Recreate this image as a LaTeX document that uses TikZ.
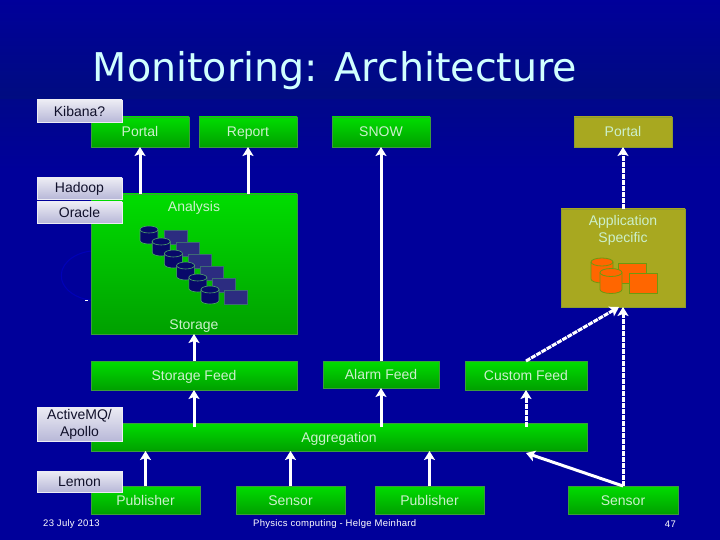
\documentclass[tikz,border=0pt]{standalone}
\usepackage{fontspec}
\setmainfont{Liberation Sans}
\newfontfamily\titlefont{DejaVu Sans}
\newfontfamily\footfont[LetterSpace=3]{Liberation Sans}
\usepackage{xcolor}
\usetikzlibrary{arrows.meta,positioning,shadows}
\definecolor{slideblue}{HTML}{00009A}
\definecolor{slidedark}{HTML}{000C80}
\definecolor{boxgreen}{HTML}{00DD00}
\definecolor{boxgreenlow}{HTML}{00A000}
\definecolor{boxedge}{HTML}{3C9C3C}
\definecolor{boxolive}{HTML}{A8A820}
\definecolor{oliveedge}{HTML}{8C9C30}
\definecolor{paletext}{HTML}{CCF0CC}
\definecolor{titletext}{HTML}{D0FFFF}
\definecolor{tagtop}{HTML}{ECECF4}
\definecolor{taglow}{HTML}{B8B8D8}
\definecolor{tagtext}{HTML}{10102A}
\definecolor{diskfill}{HTML}{08086A}
\definecolor{tapefill}{HTML}{2C2C80}
\definecolor{diskedge}{HTML}{50A868}
\definecolor{orangefill}{HTML}{FF6600}
\definecolor{orangeedge}{HTML}{6C9A10}
\begin{document}
\begin{tikzpicture}[
    x=1pt, y=1pt,
    greenbox/.style={draw=boxedge, top color=boxgreen, bottom color=boxgreenlow, line width=0.6pt, outer sep=0pt, inner sep=0pt, text=paletext, font=\fontsize{14}{17}\selectfont, text height=10pt, text depth=0pt},
    olivebox/.style={greenbox, draw=oliveedge, top color=boxolive, bottom color=boxolive},
    graytag/.style={draw=tagtop, top color=tagtop, bottom color=taglow, line width=0.4pt, outer sep=0pt, inner sep=0pt, text=tagtext, font=\fontsize{14}{17}\selectfont, align=center, minimum width=85pt, general shadow={shadow xshift=1pt, shadow yshift=-1pt, fill=black!80}},
    boxtext/.style={text=paletext, font=\fontsize{14}{17}\selectfont, align=center, inner sep=0pt},
    disk/.style={draw=diskedge, fill=diskfill, line width=0.6pt},
    tape/.style={rectangle, draw=diskedge!50!tapefill, fill=tapefill, line width=0.4pt, minimum width=23pt, minimum height=14pt, inner sep=0pt},
    odisk/.style={draw=orangeedge, fill=orangefill, line width=0.8pt},
    otape/.style={rectangle, draw=orangeedge, fill=orangefill, line width=0.8pt, minimum width=28pt, minimum height=20pt, inner sep=0pt},
    pics/can/.style n args={3}{code={
        \path[pic actions] (-#1,#2) -- (-#1,-#2) arc[start angle=180, end angle=360, x radius=#1, y radius=#3] -- (#1,#2) arc[start angle=0, end angle=180, x radius=#1, y radius=#3] -- cycle;
        \path[pic actions, fill=none] (-#1,#2) arc[start angle=180, end angle=360, x radius=#1, y radius=#3];
    }},
    arrow/.style={-{Stealth[length=9pt,width=11pt,inset=2pt]}, line width=3pt, color=white},
    darrow/.style={arrow, dash pattern=on 5pt off 1pt},
    foot/.style={text=white, font=\footfont\fontsize{9.5}{11}\selectfont, inner sep=0pt},
]

% Slide background
\useasboundingbox (0,0) rectangle (720,-540);
\shade[top color=slideblue, bottom color=slidedark] (0,0) rectangle (720,-100);
\shade[top color=slidedark!60!slideblue, bottom color=slideblue] (0,-100) rectangle (720,-170);
\fill[slideblue] (0,-170) rectangle (720,-540);
\draw[color=blue!72!black, line width=1pt] (91,-251) arc[start angle=100, end angle=260, x radius=36pt, y radius=25pt];
\draw[white, line width=1pt] (85,-300) -- (88,-300);

\node[text=titletext, font=\titlefont\fontsize{39.6}{46}\selectfont, inner sep=0pt] (title) at (335,-71) {Monitoring: Architecture};

% Top row: consumers
\node[greenbox, minimum width=98pt, minimum height=30pt] (portal) at (140,-132) {Portal};
\node[greenbox, minimum width=98pt, minimum height=30pt, right=10pt of portal] (report) {Report};
\node[greenbox, minimum width=98pt, minimum height=30pt, right=35pt of report] (snow) {SNOW};
\node[olivebox, minimum width=98pt, minimum height=30pt, right=144pt of snow] (portalapp) {Portal};

% Storage and application blocks
\node[greenbox, minimum width=206pt, minimum height=140pt, below right=47pt and 0pt of portal.south west] (analysis) {};
\node[boxtext, below=7pt of analysis.north] (analysistext) {Analysis};
\node[boxtext, above=1pt of analysis.south] (storagetext) {Storage};
\node[olivebox, minimum width=124pt, minimum height=98pt, below=62pt of portalapp] (appspecific) {};
\node[boxtext, below=6.5pt of appspecific.north] (apptext) {Application\\Specific};

% Disks and tapes in the storage block
\foreach \i in {0,...,5} {
    \node[tape] (tape\i) at ({175.5+12*\i},{-237-12*\i}) {};
    \pic[disk] (disk\i) at ({149+12.2*\i},{-235-12*\i}) {can={9}{5.5}{3.5}};
}

% Disks and tapes in the application block
\pic[odisk] (odiska) at (602,-270.5) {can={11}{8.5}{4}};
\node[otape] (otapea) at (632,-273) {};
\pic[odisk] (odiskb) at (611,-281) {can={11}{8.5}{4}};
\node[otape] (otapeb) at (643,-283) {};

% Feeds
\node[greenbox, minimum width=206pt, minimum height=29pt, below=27pt of analysis] (storagefeed) {Storage Feed};
\node[greenbox, minimum width=116pt, minimum height=27pt, below=214pt of snow] (alarmfeed) {Alarm Feed};
\node[greenbox, minimum width=122pt, minimum height=29pt, right=26pt of alarmfeed, yshift=-1pt] (customfeed) {Custom Feed};

% Aggregation and sources
\node[greenbox, minimum width=496pt, minimum height=28pt, below right=33pt and 0pt of storagefeed.south west] (aggregation) {Aggregation};
\node[greenbox, minimum width=109pt, minimum height=28pt, below right=35pt and 0pt of aggregation.south west] (publisher) {Publisher};
\node[greenbox, minimum width=109pt, minimum height=28pt, right=36pt of publisher] (sensor) {Sensor};
\node[greenbox, minimum width=109pt, minimum height=28pt, right=30pt of sensor] (publishertwo) {Publisher};
\node[greenbox, minimum width=110pt, minimum height=28pt, right=84pt of publishertwo] (sensortwo) {Sensor};

% Product tags
\node[graytag, minimum height=22pt] (kibana) at (79.5,-111) {Kibana?};
\node[graytag, minimum height=21pt] (hadoop) at (79.5,-188.5) {Hadoop};
\node[graytag, minimum height=21pt, below=3pt of hadoop] (oracle) {Oracle};
\node[graytag, minimum height=34pt] (activemq) at (79.5,-424) {ActiveMQ/\\Apollo};
\node[graytag, minimum height=21pt] (lemon) at (79.5,-481.5) {Lemon};

% Footer
\node[foot, anchor=west] (date) at (43,-524) {23 July 2013};
\node[foot, anchor=west] (talk) at (253,-524) {Physics computing - Helge Meinhard};
\node[foot, anchor=east] (page) at (676,-524) {47};

% Arrows into the top row
\draw[arrow] (analysis.north -| portal) -- (portal.south);
\draw[arrow] (analysis.north -| report) -- (report.south);
\draw[arrow] (alarmfeed.north) -- (snow.south);
\draw[darrow] (appspecific.north) -- (portalapp.south);

% Feed arrows
\draw[arrow] (storagefeed.north) -- (analysis.south);
\draw[darrow] (customfeed.north) -- ([xshift=-4pt]appspecific.south);
\coordinate[below=4pt of aggregation.north] (aggtop);
\draw[arrow] (aggtop -| storagefeed) -- (storagefeed.south);
\draw[arrow] (aggtop -| alarmfeed) -- (alarmfeed.south);
\draw[darrow] (aggtop -| customfeed) -- (customfeed.south);

% Source arrows
\draw[arrow] (publisher.north) -- (aggregation.south -| publisher);
\draw[arrow] (sensor.north) -- (aggregation.south -| sensor);
\draw[arrow] (publishertwo.north) -- (aggregation.south -| publishertwo);
\draw[arrow] (sensortwo.north) -- ([yshift=-2pt]aggregation.south -| customfeed);
\draw[darrow] (sensortwo.north) -- (appspecific.south);

\end{tikzpicture}
\end{document}
